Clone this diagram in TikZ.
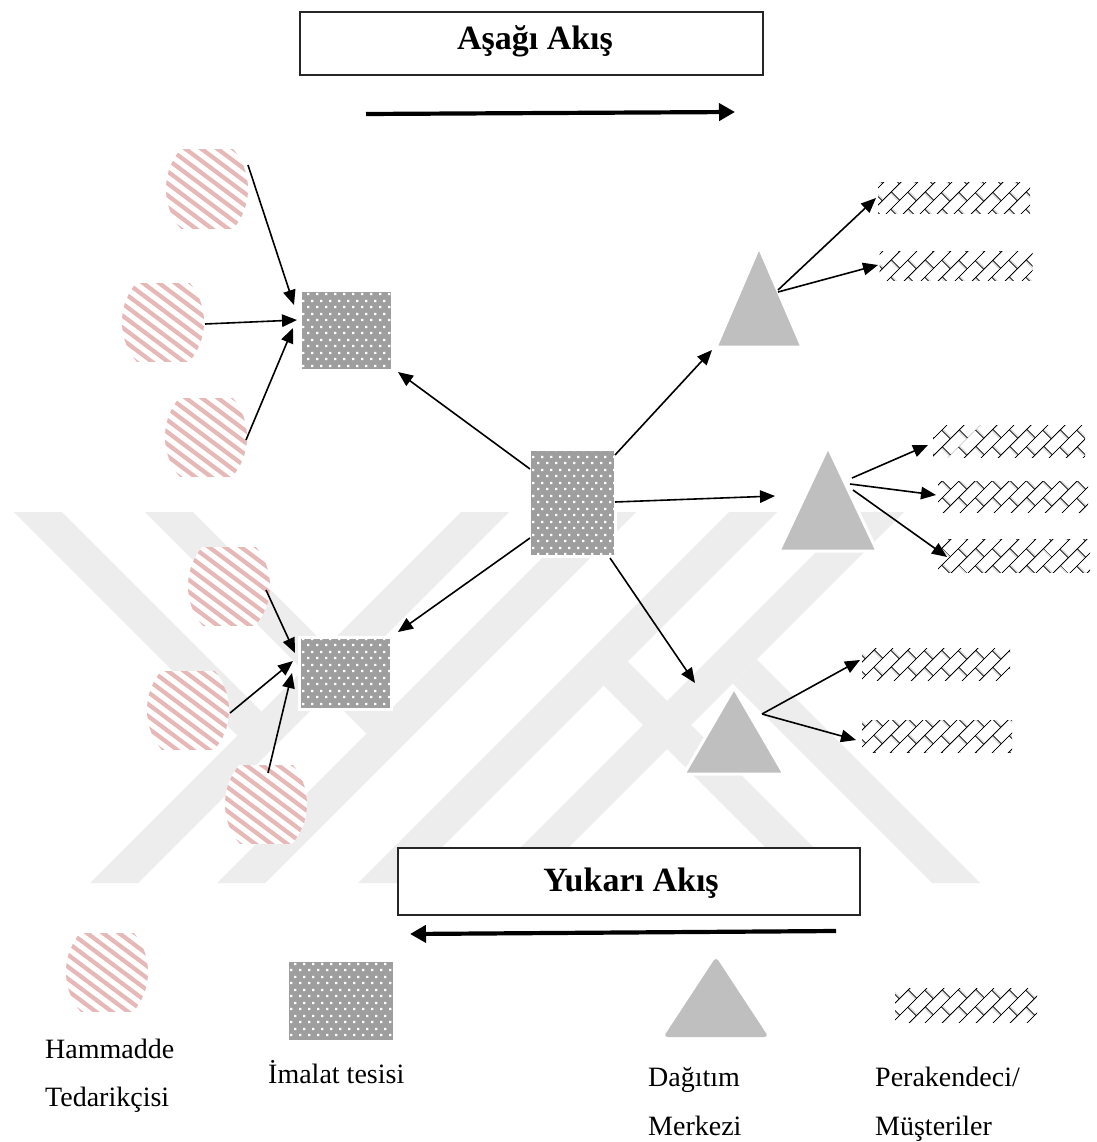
\documentclass[tikz,border=0pt]{standalone}
\usepackage{fontspec}
\setmainfont{Liberation Serif}
\usetikzlibrary{arrows.meta,patterns,patterns.meta}

\definecolor{hatchpink}{RGB}{230,184,183}
\definecolor{plantgray}{RGB}{158,158,158}
\definecolor{dcgray}{RGB}{191,191,191}
\definecolor{wm}{RGB}{237,237,237}

% white dots on the plant squares
\tikzdeclarepattern{
  name=plantdots, type=uncolored,
  bounding box={(0pt,0pt) and (8.5pt,13pt)},
  tile size={(8.5pt,13pt)},
  code={
    \fill (1.2pt,2pt) rectangle +(2.3pt,2.3pt);
    \fill (5.45pt,8.5pt) rectangle +(2.3pt,2.3pt);
  }
}
% diagonal brick for the retailers
\tikzdeclarepattern{
  name=diagbrick, type=uncolored,
  bounding box={(0pt,0pt) and (24pt,24pt)},
  tile size={(24pt,24pt)},
  tile transformation={rotate=45},
  line width=1.2pt,
  code={
    \draw (0pt,6pt) -- (24pt,6pt);
    \draw (0pt,18pt) -- (24pt,18pt);
    \draw (6pt,6pt) -- (6pt,18pt);
    \draw (18pt,18pt) -- (18pt,24pt);
    \draw (18pt,0pt) -- (18pt,6pt);
  }
}

\tikzset{
  supplier/.style={minimum width=84pt, minimum height=80pt, inner sep=0pt,
    path picture={
      \begin{scope}[shift={(path picture bounding box.center)}]
        \clip (-41pt,-39pt) rectangle (41pt,39pt);
        \clip (-20pt,0pt) circle [radius=61pt];
        \clip (20pt,0pt) circle [radius=61pt];
        \fill[white] (-50pt,-50pt) rectangle (50pt,50pt);
        \foreach \k in {-8,...,8}
          \draw[line width=4.2pt, hatchpink] (\k*16pt-60pt,45pt) -- ++(120pt,-90pt);
      \end{scope}
    }},
  plant/.style={inner sep=0pt, draw=white, line width=3pt,
    preaction={fill=plantgray}, pattern=plantdots, pattern color=white},
  retailer/.style={inner sep=0pt, pattern=diagbrick, pattern color=black},
  dc/.style 2 args={minimum width=#1pt+10pt, minimum height=#2pt+10pt, inner sep=0pt,
    path picture={
      \begin{scope}[shift={(path picture bounding box.center)}]
        \filldraw[dcgray, draw=white, line width=3pt, line join=round]
          (-#1/2,#2/2) -- (#1/2,#2/2) -- (0,-#2/2) -- cycle;
      \end{scope}
    }},
  flow/.style={-{Triangle[length=15pt,width=12.5pt]}, line width=1.6pt},
  bigflow/.style={-{Triangle[length=16pt,width=17pt]}, line width=4.2pt},
  titlebox/.style={draw=black!85, line width=1.2pt, fill=white, inner sep=0pt},
  titletext/.style={font=\fontsize{34}{40}\selectfont\bfseries, inner sep=0pt},
  legendtext/.style={font=\fontsize{28}{34}\selectfont, inner sep=0pt, anchor=base west}
}

\begin{document}
\begin{tikzpicture}[x=1pt, y=-1pt]
\useasboundingbox (0,0) rectangle (1096,1142);
\fill[white] (0,0) rectangle (1096,1142);

% background watermark: two slanted Y marks and their half-turned copies
\begin{scope}
  \foreach \turn in {0,1}{
    \begin{scope}[shift={(994*\turn,1395*\turn)}, xscale=1-2*\turn, yscale=1-2*\turn]
      \fill[wm] (90,883) -- (138,883) -- (509,512) -- (461,512) -- cycle;
      \fill[wm] (217,883) -- (265,883) -- (636,512) -- (588,512) -- cycle;
      \fill[wm] (14,512) -- (62,512) -- (261.5,711.5) -- (237.5,735.5) -- cycle;
      \fill[wm] (145,512) -- (193,512) -- (390.5,709.5) -- (366.5,733.5) -- cycle;
    \end{scope}
  }
\end{scope}

% flow direction boxes and arrows
\node[titlebox, minimum width=463pt, minimum height=63pt] (downbox) at (531.5,43.5) {};
\node[titletext, anchor=base] (downlbl) at (535,50) {Aşağı Akış};
\coordinate (ds) at (366,114);
\coordinate (de) at (735,112);
\draw[bigflow] (ds) -- (de);

\node[titlebox, minimum width=462pt, minimum height=67pt] (upbox) at (629,881.5) {};
\node[titletext, anchor=base] (uplbl) at (631,891) {Yukarı Akış};
\coordinate (us) at (836,931);
\coordinate (ue) at (410,934);
\draw[bigflow] (us) -- (ue);

% raw material suppliers
\node[supplier] (h1) at (207,189) {};
\node[supplier] (h2) at (163,322) {};
\node[supplier] (h3) at (206,437) {};
\node[supplier] (h4) at (229,586) {};
\node[supplier] (h5) at (188,710) {};
\node[supplier] (h6) at (266,804) {};

% manufacturing plants
\node[plant, minimum width=92pt, minimum height=80pt] (m1) at (346,330) {};
\node[plant, minimum width=92pt, minimum height=72pt] (m2) at (345,673) {};
\node[plant, minimum width=86pt, minimum height=107pt] (c) at (572,503) {};

% distribution centres
\node[dc={86}{100}] (t1) at (759,297) {};
\node[dc={98}{104}] (t2) at (828,499) {};
\node[dc={100}{86}] (t3) at (734,731) {};

% retailers / customers
\node[retailer, minimum width=152pt, minimum height=30pt] (r1) at (954,198) {};
\node[retailer, minimum width=153pt, minimum height=29pt] (r2) at (956,266) {};
\node[retailer, minimum width=152pt, minimum height=32pt] (r3) at (1009,441) {};
\node[retailer, minimum width=150pt, minimum height=31pt] (r4) at (1013,497) {};
\node[retailer, minimum width=152pt, minimum height=33pt] (r5) at (1014,556) {};
\node[retailer, minimum width=148pt, minimum height=32pt] (r6) at (936,664) {};
\node[retailer, minimum width=150pt, minimum height=32pt] (r7) at (937,736) {};

% supplier -> plant
\draw[flow] ([shift={(41,-24)}]h1.center) -- ([shift={(-52,-25)}]m1.center);
\draw[flow] ([shift={(42,2)}]h2.center) -- ([shift={(-49,-10)}]m1.center);
\draw[flow] ([shift={(40,3)}]h3.center) -- ([shift={(-53,-2)}]m1.center);
\draw[flow] ([shift={(37,4)}]h4.center) -- ([shift={(-50,-20)}]m2.center);
\draw[flow] ([shift={(42,3)}]h5.center) -- ([shift={(-52,-12)}]m2.center);
\draw[flow] ([shift={(2,-31)}]h6.center) -- ([shift={(-53,0)}]m2.center);

% central plant -> plants and distribution centres
\draw[flow] ([shift={(-42,-34)}]c.center) -- ([shift={(52,42)}]m1.center);
\draw[flow] ([shift={(-42,35)}]c.center) -- ([shift={(53,-41)}]m2.center);
\draw[flow] ([shift={(43,-48)}]c.center) -- ([shift={(-47,53)}]t1.center);
\draw[flow] ([shift={(43,-1)}]c.center) -- ([shift={(-53,-3)}]t2.center);
\draw[flow] ([shift={(38,55)}]c.center) -- ([shift={(-39,-48)}]t3.center);

% distribution centres -> retailers
\draw[flow] ([shift={(19,-7)}]t1.center) -- ([shift={(-78,0)}]r1.center);
\draw[flow] ([shift={(19,-5)}]t1.center) -- ([shift={(-78,-1)}]r2.center);
\draw[flow] ([shift={(24,-21)}]t2.center) -- ([shift={(-81,4)}]r3.center);
\draw[flow] ([shift={(22,-15)}]t2.center) -- ([shift={(-77,-2)}]r4.center);
\draw[flow] ([shift={(25,-9)}]t2.center) -- ([shift={(-67,1)}]r5.center);
\draw[flow] ([shift={(28,-17)}]t3.center) -- ([shift={(-76,-4)}]r6.center);
\draw[flow] ([shift={(28,-17)}]t3.center) -- ([shift={(-81,4)}]r7.center);

% legend
\node[supplier] (hL) at (107,972) {};
\node[plant, draw=none, minimum width=104pt, minimum height=78pt] (mL) at (341,1001) {};
\node[minimum width=115pt, minimum height=90pt, inner sep=0pt,
  path picture={
    \begin{scope}[shift={(path picture bounding box.center)}]
      \fill[dcgray, rounded corners=4pt] (-52.5,40) -- (52.5,40) -- (0,-40) -- cycle;
    \end{scope}
  }] (tL) at (716,997) {};
\node[retailer, minimum width=142pt, minimum height=34pt] (rL) at (966,1005) {};

\node[legendtext] (lh1) at (45,1058) {Hammadde};
\node[legendtext] (lh2) at (45,1106) {Tedarikçisi};
\node[legendtext] (lm) at (268,1083) {İmalat tesisi};
\node[legendtext] (lt1) at (648,1086) {Dağıtım};
\node[legendtext] (lt2) at (648,1135) {Merkezi};
\node[legendtext] (lr1) at (875,1086) {Perakendeci/};
\node[legendtext] (lr2) at (875,1135) {Müşteriler};
\end{tikzpicture}
\end{document}
